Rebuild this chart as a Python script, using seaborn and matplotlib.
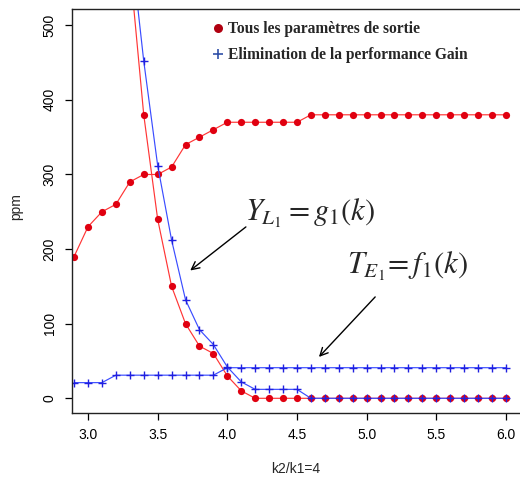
import matplotlib
matplotlib.use("Agg")
import matplotlib.pyplot as plt
from matplotlib.lines import Line2D
import seaborn as sns
import numpy as np

# ---- data ----
k_te = [2.9, 3.0, 3.1, 3.2, 3.3, 3.4, 3.5, 3.6, 3.7, 3.8, 3.9, 4.0, 4.1, 4.2, 4.3, 4.4,
        4.5, 4.6, 4.7, 4.8, 4.9, 5.0, 5.1, 5.2, 5.3, 5.4, 5.5, 5.6, 5.7, 5.8, 5.9, 6.0]
te_tous = [190, 230, 250, 260, 290, 300, 300, 310, 340, 350, 360, 370, 370, 370, 370, 370,
           370, 380, 380, 380, 380, 380, 380, 380, 380, 380, 380, 380, 380, 380, 380, 380]
te_gain = [21, 21, 21, 31, 31, 31, 31, 31, 31, 31, 31, 41, 41, 41, 41, 41,
           41, 41, 41, 41, 41, 41, 41, 41, 41, 41, 41, 41, 41, 41, 41, 41]

k_yl = [3.3, 3.4, 3.5, 3.6, 3.7, 3.8, 3.9, 4.0, 4.1, 4.2, 4.3, 4.4, 4.5, 4.6, 4.7, 4.8,
        4.9, 5.0, 5.1, 5.2, 5.3, 5.4, 5.5, 5.6, 5.7, 5.8, 5.9, 6.0]
yl_tous = [580, 380, 240, 150, 100, 70, 60, 30, 10, 0, 0, 0, 0, 0, 0, 0,
           0, 0, 0, 0, 0, 0, 0, 0, 0, 0, 0, 0]
yl_gain = [620, 452, 312, 212, 132, 92, 72, 42, 22, 12, 12, 12, 12, 0, 0, 0,
           0, 0, 0, 0, 0, 0, 0, 0, 0, 0, 0, 0]

legend_labels = ["Tous les paramètres de sortie", "Elimination de la performance Gain"]
x_ticks = [3.0, 3.5, 4.0, 4.5, 5.0, 5.5, 6.0]
y_ticks = [0, 100, 200, 300, 400, 500]

# ---- style ----
sns.set_style("ticks")
plt.rcParams['font.family'] = ['Liberation Sans', 'DejaVu Sans']
plt.rcParams['mathtext.fontset'] = 'stix'

RED_LINE = "#ff3535"
RED_MK = "#e00010"
BLUE_LINE = "#3a4cff"
BLUE_MK = "#2020e0"

fig = plt.figure(figsize=(5.2, 4.79), dpi=100)
ax = fig.add_axes([72/520, 1 - 413/479, (520-72)/520, (413-9)/479])

sns.lineplot(x=k_te, y=te_tous, ax=ax, color=RED_LINE, lw=0.85, marker="o",
             markersize=5.2, markerfacecolor=RED_MK, markeredgecolor=RED_MK,
             markeredgewidth=0, legend=False)
sns.lineplot(x=k_yl, y=yl_tous, ax=ax, color=RED_LINE, lw=0.85, marker="o",
             markersize=5.2, markerfacecolor=RED_MK, markeredgecolor=RED_MK,
             markeredgewidth=0, legend=False)
sns.lineplot(x=k_te, y=te_gain, ax=ax, color=BLUE_LINE, lw=0.85, marker="+",
             markersize=6, markeredgecolor=BLUE_MK, markeredgewidth=1.0, legend=False)
sns.lineplot(x=k_yl, y=yl_gain, ax=ax, color=BLUE_LINE, lw=0.85, marker="+",
             markersize=6, markeredgecolor=BLUE_MK, markeredgewidth=1.0, legend=False)

ax.set_xlim(2.885, 6.101)
ax.set_ylim(-19.7, 521.8)
ax.set_xticks(x_ticks)
ax.set_xticklabels([f"{v:.1f}" for v in x_ticks])
ax.set_yticks(y_ticks)
ax.set_yticklabels([str(v) for v in y_ticks], rotation=90, va="center")
ax.tick_params(axis="both", length=5, width=0.9, color="black", labelsize=10,
               labelcolor="black", direction="out")
ax.tick_params(axis="x", pad=6)
ax.tick_params(axis="y", pad=6)
for s in ["left", "bottom", "top"]:
    ax.spines[s].set_linewidth(1.0)
    ax.spines[s].set_color("#222222")
ax.spines["right"].set_visible(False)

ax.set_xlabel("k2/k1=4", fontsize=10, labelpad=14)
ax.set_ylabel("ppm", fontsize=10)
ax.yaxis.set_label_coords(-0.108, 0.51)

# legend
handles = [
    Line2D([], [], ls="none", marker="o", markersize=6.5, color="#b00010",
           markeredgewidth=0),
    Line2D([], [], ls="none", marker="+", markersize=7, color="#3050a8",
           markeredgewidth=1.2),
]
leg = ax.legend(handles, legend_labels, loc="upper left", bbox_to_anchor=(0.288, 1.0),
                frameon=False, handlelength=0.6, handletextpad=0.35,
                labelspacing=0.62, borderaxespad=0.4,
                prop={"family": "Liberation Serif", "weight": "bold", "size": 11.2})

# annotations
ax.text(4.594, 248, r"$Y_{L_1} = g_1(k)$", fontsize=22, ha="center", va="center")
ax.text(5.29, 177, r"$T_{E_1}\!= f_1(k)$", fontsize=22, ha="center", va="center")
ax.annotate("", xy=(3.718, 169), xytext=(4.149, 232),
            arrowprops=dict(arrowstyle="->", color="black", lw=1.0,
                            mutation_scale=14))
ax.annotate("", xy=(4.644, 52.7), xytext=(5.075, 138.6),
            arrowprops=dict(arrowstyle="->", color="black", lw=1.0,
                            mutation_scale=14))

fig.savefig("out.png", dpi=100)
